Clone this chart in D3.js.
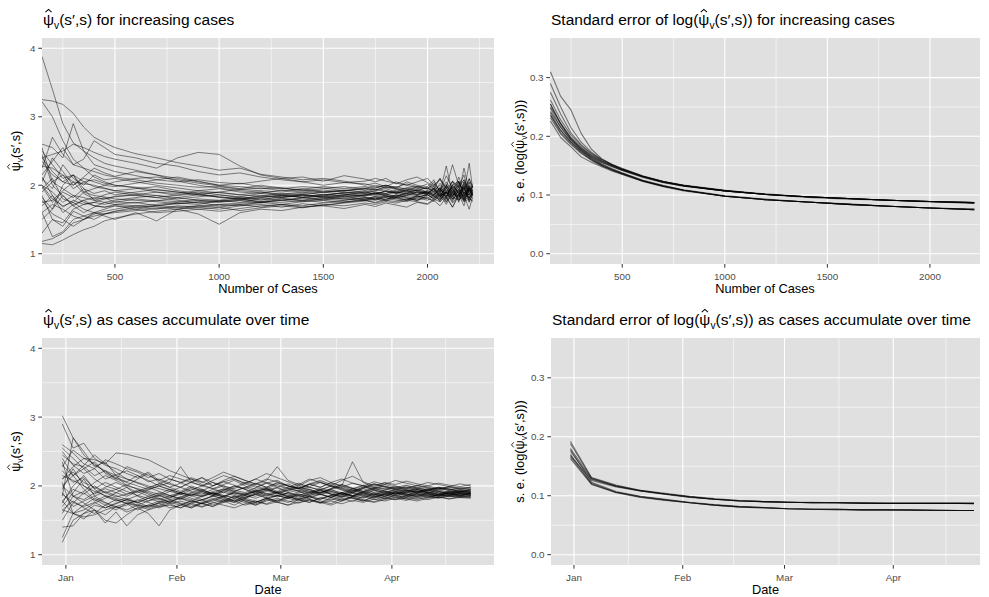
<!DOCTYPE html>
<html>
<head>
<meta charset="utf-8">
<script src="https://cdnjs.cloudflare.com/ajax/libs/d3/7.8.5/d3.min.js"></script>
<style>
  body { margin: 0; background: #fff; }
  text { font-family: "Liberation Sans", Arial, sans-serif; }
</style>
</head>
<body>
<script>

// ---- data -------------------------------------------------------------

// number of cases at which psi-hat was estimated (top row)
var CASES = [150,200,250,300,350,400,450,500,600,700,800,900,1000,1100,1200,1300,1400,1500,1600,1700,
             1750,1800,1850,1900,1950,2000,2030,2060,2090,2120,2150,2175,2200,2216];

// psi-hat estimates x100, one row per simulated run
var PSI_CASES = [
  [388,340,290,262,250,240,232,228,222,215,210,205,200,198,195,196,193,190,192,195,193,197,194,196,199,195,205,190,228,188,212,192,205,198],
  [325,323,318,305,285,270,262,255,246,240,233,228,222,225,216,212,208,210,206,200,203,198,205,200,196,202,194,210,190,206,198,215,186,200],
  [322,300,265,238,225,212,205,200,196,190,185,188,182,180,185,183,186,184,190,188,186,192,189,185,190,188,196,182,200,184,198,178,204,190],
  [118,122,130,145,150,155,158,160,163,166,168,170,172,174,176,175,178,180,178,182,180,184,181,185,183,186,180,192,178,194,182,196,180,188],
  [115,113,120,128,135,140,148,152,158,162,165,170,168,172,175,178,176,180,182,179,184,182,186,183,180,188,184,178,190,176,195,182,200,186],
  [160,125,132,150,155,150,158,162,168,170,173,176,178,175,180,182,185,183,180,186,188,184,182,186,190,187,192,180,196,185,190,176,193,186],
  [225,270,245,230,238,265,255,245,240,232,228,220,215,218,212,208,205,200,204,202,198,200,196,205,200,198,208,190,214,195,205,185,210,195],
  [260,255,240,290,250,230,225,220,214,208,212,206,200,203,198,195,198,196,192,195,200,196,198,194,192,197,190,203,188,200,206,185,199,192],
  [195,210,180,175,190,185,183,180,178,176,173,175,170,172,168,172,170,174,176,178,175,180,182,178,185,180,178,188,175,192,180,198,175,188],
  [182,165,200,215,195,178,182,175,180,177,182,178,176,180,175,178,182,180,185,183,180,186,184,188,186,190,185,195,182,198,175,205,188,192],
  [240,220,205,215,190,195,200,205,210,212,208,203,199,195,200,196,192,195,198,193,196,200,195,192,198,194,200,188,202,185,206,190,232,196],
  [210,195,230,210,200,215,208,210,205,200,196,192,195,190,188,193,190,186,189,192,190,188,193,190,187,192,198,186,195,183,205,188,196,190],
  [170,185,160,172,178,170,168,172,175,170,174,172,177,180,176,181,178,183,180,178,182,179,186,182,178,184,190,176,193,180,186,170,198,184],
  [205,240,220,200,212,225,218,213,220,215,206,200,196,192,190,186,188,190,193,190,194,191,188,194,196,190,186,197,184,201,187,205,183,194],
  [150,165,185,170,160,168,175,178,182,185,180,183,186,182,178,184,186,182,186,190,187,191,188,192,189,186,195,182,200,188,184,202,178,190],
  [245,200,185,170,178,182,180,184,186,190,188,192,189,186,184,188,186,190,187,184,189,186,190,188,193,189,184,196,180,206,186,198,176,185],
  [185,150,140,162,155,160,165,170,168,165,170,168,165,170,172,168,173,170,175,178,174,178,176,180,178,182,176,186,172,190,178,185,165,182],
  [228,225,215,205,202,200,196,192,195,198,192,188,190,186,190,187,190,193,190,188,192,195,190,196,192,188,194,185,198,180,200,178,195,188],
  [130,150,145,165,172,175,172,176,174,178,176,180,178,183,180,178,181,185,183,186,188,185,183,188,191,188,195,184,190,178,192,183,196,192],
  [255,205,195,185,175,170,168,170,165,170,168,165,162,166,170,172,168,171,174,177,180,177,182,179,184,181,186,180,190,183,178,190,182,186],
  [215,235,255,230,225,220,215,212,208,203,200,197,198,194,196,192,195,190,192,196,193,198,195,191,194,196,191,200,185,198,188,225,192,198],
  [200,190,175,185,182,178,175,172,170,168,165,168,172,170,175,172,176,178,175,180,178,182,178,176,182,178,184,178,190,174,186,180,188,181],
  [175,178,192,205,188,180,186,190,185,182,186,190,186,183,188,185,183,187,184,186,184,188,191,187,185,190,196,184,190,180,193,188,182,190],
  [160,172,165,155,150,160,158,162,165,160,162,165,168,163,167,170,167,172,170,174,172,176,174,178,176,173,180,176,184,168,188,178,183,176],
  [235,215,205,200,210,205,200,198,203,208,205,208,204,202,206,210,205,208,204,206,210,206,203,200,205,210,200,208,196,230,200,195,209,200],
  [190,205,215,195,205,198,195,192,188,185,182,186,183,180,184,182,186,183,186,190,187,192,189,193,186,192,188,196,182,200,190,184,195,187],
  [212,185,168,178,172,175,180,183,186,182,178,174,176,178,182,186,182,178,184,180,183,178,184,181,178,186,182,190,176,186,194,180,192,184],
  [250,230,210,215,205,208,203,200,197,193,190,186,183,180,182,185,182,186,188,185,190,187,184,190,193,190,186,193,188,196,184,200,190,193],
  [178,158,150,140,150,158,162,165,170,172,175,178,175,178,174,180,178,175,178,182,179,184,180,178,183,186,180,188,184,194,178,190,186,190],
  [198,175,190,182,195,188,192,186,190,194,190,186,190,194,192,190,194,198,195,198,196,200,197,202,198,195,202,193,205,190,200,208,192,197],
  [240,245,250,260,255,248,242,238,232,225,240,248,245,228,215,210,212,206,214,209,205,210,202,208,212,204,198,210,195,205,196,208,192,200],
  [200,180,170,175,165,160,155,150,160,148,165,158,143,160,165,163,168,170,166,172,169,174,171,168,175,172,178,170,182,168,185,176,180,178]
];

// cases for the standard error curves
var SE_CASES = [150,200,250,300,350,400,450,500,600,700,800,1000,1200,1400,1600,1800,2000,2216];

// s.e. of log(psi-hat) x1000, upper group and lower group of runs
var SE_UPPER_CASES = [
  [250,222,198,181,168,158,150,143,131,122,116,107,101,97,94,91,89,87],
  [262,228,202,184,170,159,151,144,132,123,116,107,101,97,94,91,89,87],
  [242,216,194,178,166,156,149,142,131,122,115,107,101,97,94,91,89,87],
  [310,268,245,205,178,162,152,145,133,123,117,108,102,97,94,91,89,87],
  [255,220,196,180,167,157,150,143,131,122,116,107,101,97,94,91,89,86],
  [275,238,206,186,171,160,152,145,132,123,116,108,101,97,94,91,89,87],
  [236,210,190,175,164,155,148,142,130,121,115,107,101,96,93,91,88,86],
  [290,250,215,190,173,161,152,144,132,123,116,107,101,97,94,91,89,87]
];
var SE_LOWER_CASES = [
  [240,210,190,174,161,151,143,137,124,115,108,98,92,88,84,81,78,75],
  [232,204,186,171,159,150,142,136,124,115,108,98,92,88,84,81,78,75],
  [248,215,193,176,162,152,144,137,125,116,108,98,92,88,84,81,78,76],
  [226,198,182,165,156,148,141,135,123,114,107,98,92,88,84,81,78,75],
  [255,222,196,178,164,153,145,138,125,116,109,99,93,88,85,81,78,76],
  [236,206,188,172,160,150,143,136,124,115,108,98,92,88,84,81,78,75]
];

// dates at which psi-hat was estimated (bottom row)
var DATES = ["2019-12-31","2020-01-03","2020-01-06","2020-01-09","2020-01-12","2020-01-15","2020-01-18",
             "2020-01-21","2020-01-24","2020-01-27","2020-01-30","2020-02-02","2020-02-05","2020-02-08",
             "2020-02-11","2020-02-14","2020-02-17","2020-02-20","2020-02-23","2020-02-26","2020-02-29",
             "2020-03-03","2020-03-06","2020-03-09","2020-03-12","2020-03-15","2020-03-18","2020-03-21",
             "2020-03-24","2020-03-27","2020-03-30","2020-04-02","2020-04-05","2020-04-08","2020-04-11",
             "2020-04-14","2020-04-17","2020-04-20","2020-04-23"];

var PSI_TIME = [
  [302,270,245,230,222,215,210,205,200,196,192,188,190,186,192,195,190,188,193,196,190,194,198,192,190,195,199,194,190,196,193,190,194,191,196,192,190,193,191],
  [118,150,160,172,168,175,180,176,182,186,180,184,188,185,190,186,183,188,192,189,186,190,194,190,187,192,188,185,190,194,191,188,192,189,193,190,188,191,189],
  [290,255,262,240,230,225,218,212,220,208,202,198,205,200,196,202,208,200,195,198,204,200,196,202,198,205,200,196,201,198,195,199,196,200,197,194,198,195,196],
  [140,142,160,165,158,170,175,172,168,175,178,182,176,180,185,182,178,184,188,183,186,182,188,185,181,186,190,186,183,188,185,190,187,184,188,186,190,187,188],
  [255,240,225,235,218,210,228,222,215,208,215,210,205,212,200,206,210,203,198,205,200,196,202,198,194,200,197,193,198,195,200,196,193,197,194,198,195,192,194],
  [160,185,175,165,150,146,158,168,160,142,165,172,168,175,170,178,172,180,176,182,178,185,180,176,183,179,185,182,178,185,181,186,183,188,184,187,185,189,186],
  [245,232,228,215,222,210,205,200,195,200,195,190,185,192,188,184,190,186,192,196,190,185,192,188,195,190,186,193,189,184,190,194,190,187,191,188,192,190,189],
  [175,200,215,195,185,178,182,176,170,175,168,172,178,174,180,185,190,186,182,188,192,188,184,190,194,188,185,191,187,193,189,186,190,193,190,188,186,190,188],
  [210,220,205,198,190,195,188,192,185,180,186,182,190,195,188,184,192,198,192,186,190,196,192,186,190,195,188,192,196,190,187,192,189,195,191,188,193,190,192],
  [190,170,178,185,192,186,180,175,182,188,184,190,186,180,185,191,186,182,188,194,189,184,180,186,192,188,184,190,186,182,188,192,188,185,189,192,188,185,190],
  [228,252,240,232,220,212,206,215,208,200,205,228,206,200,208,215,210,204,210,218,212,206,200,208,212,205,210,204,200,206,202,208,204,200,205,202,199,203,200],
  [165,160,172,182,175,168,172,180,176,170,176,182,178,174,170,176,180,176,172,178,182,178,175,180,176,172,178,183,179,176,180,184,181,178,182,184,181,185,183],
  [215,208,200,192,186,182,178,172,170,176,180,175,170,176,182,178,185,180,176,182,186,182,188,184,180,186,190,185,182,188,185,190,186,192,188,185,190,187,189],
  [195,225,200,188,196,190,198,185,178,186,182,190,198,192,186,193,200,195,188,194,198,203,196,190,197,192,188,195,200,194,190,195,198,193,190,194,191,195,192],
  [150,175,190,178,185,180,175,178,185,190,186,180,188,184,190,186,182,188,194,188,184,190,186,182,188,184,190,186,192,188,184,189,186,191,188,185,188,186,187],
  [240,215,195,180,172,165,175,170,166,172,178,174,168,175,180,176,182,178,174,180,186,182,178,184,188,183,179,185,190,186,182,187,184,189,186,183,188,185,186],
  [185,270,250,228,235,215,200,196,192,188,195,190,186,193,189,196,192,188,185,192,197,190,186,192,188,194,190,185,192,196,192,188,193,190,194,190,188,192,190],
  [200,185,180,190,198,205,198,190,196,203,198,192,200,195,188,194,200,196,203,198,192,198,204,198,194,200,195,190,196,202,198,194,198,195,192,196,194,197,195],
  [230,215,225,210,200,195,202,195,188,182,176,184,180,174,178,184,178,172,176,182,178,184,180,176,182,186,180,184,188,183,187,183,186,189,185,188,186,189,187],
  [165,178,168,160,172,180,174,165,172,178,174,168,175,180,172,178,185,178,172,180,176,172,180,185,178,174,182,177,185,180,184,180,185,182,186,183,186,184,185],
  [260,248,232,225,210,216,222,215,206,210,204,198,206,212,205,200,196,203,210,204,208,200,196,202,206,200,196,192,198,203,199,196,200,197,195,198,196,193,195],
  [178,195,188,200,190,184,188,194,190,185,192,198,192,188,195,200,194,190,197,204,198,192,198,194,190,196,202,196,192,198,196,192,195,191,194,197,193,191,193],
  [205,160,165,175,182,190,185,192,198,192,186,190,196,190,186,193,188,183,190,185,191,186,182,188,194,188,183,189,185,190,187,191,188,185,189,186,190,187,189],
  [125,160,155,158,165,170,162,168,172,168,174,178,173,169,175,180,176,182,178,174,180,176,182,179,175,181,178,184,180,177,182,180,183,180,184,182,185,183,184],
  [250,230,218,225,238,232,225,220,212,218,210,205,212,206,200,208,214,208,202,208,228,208,202,210,205,200,208,214,206,200,205,202,207,203,200,204,201,199,202],
  [188,176,170,176,168,174,180,186,182,177,183,188,182,178,186,180,176,182,188,182,176,182,186,181,176,183,188,182,178,184,189,185,181,186,183,187,184,186,185],
  [222,205,212,196,205,198,192,186,194,200,194,188,194,200,205,198,192,198,204,198,205,200,196,203,198,204,200,235,205,198,204,200,196,201,198,195,199,196,198],
  [170,190,210,185,176,170,165,172,178,182,176,172,178,185,190,184,178,186,192,196,190,184,190,195,188,183,190,196,190,186,192,188,191,195,190,187,191,189,190],
  [235,185,192,205,215,208,200,210,218,205,198,204,210,202,196,190,198,205,200,194,188,194,200,195,190,196,202,197,192,188,194,198,194,191,195,192,189,192,191],
  [200,215,230,245,232,220,210,204,198,203,210,205,198,193,200,206,201,195,190,196,202,197,193,199,205,199,194,190,197,203,199,195,192,196,193,197,195,192,194],
  [210,228,240,238,232,248,246,242,238,230,222,216,210,205,212,220,214,208,203,210,206,200,196,203,208,202,198,204,200,196,202,198,201,197,200,196,199,197,198],
  [178,160,152,165,146,162,142,158,165,170,172,168,175,170,176,172,168,174,178,173,177,172,176,180,175,178,174,179,176,181,178,182,179,183,180,184,181,183,182]
];

var SE_DATES = ["2019-12-31","2020-01-06","2020-01-13","2020-01-20","2020-01-27","2020-02-03","2020-02-10",
                "2020-02-17","2020-02-24","2020-03-02","2020-03-09","2020-03-16","2020-03-23","2020-03-30",
                "2020-04-06","2020-04-13","2020-04-20","2020-04-24"];

var SE_UPPER_TIME = [
  [175,128,116,108,103,98,94,91,90,89,88,88,87,87,87,87,87,87],
  [188,130,117,109,103,98,94,92,90,89,88,88,88,87,87,87,87,87],
  [168,126,115,108,102,97,94,91,90,89,88,88,87,87,87,87,87,86],
  [192,131,118,109,104,99,95,92,90,89,89,88,88,87,87,87,87,87],
  [180,129,116,108,103,98,94,91,90,89,88,88,87,87,87,87,87,87]
];
var SE_LOWER_TIME = [
  [170,121,106,98,93,88,84,81,80,78,77,77,76,76,76,75,75,75],
  [163,119,105,97,92,88,84,81,79,78,77,77,76,76,76,75,75,75],
  [178,123,107,99,94,89,85,82,80,78,77,77,76,76,76,76,75,75],
  [166,120,106,98,93,88,84,81,80,78,77,76,76,76,75,75,75,75]
];

// ---- drawing ----------------------------------------------------------

var W = 989, H = 597;
var PANEL_BG = "#e0e0e0";
var parseDay = d3.timeParse("%Y-%m-%d");
var svg = d3.select("body").append("svg").attr("width", W).attr("height", H);
svg.append("rect").attr("width", W).attr("height", H).attr("fill", "#fff");

var clipCount = 0;

// writes  pre + psi-hat_v(s',s) + post  at the origin of group g.
// the hat is drawn as a small path over the psi glyph
function psiText(g, anchor, size, pre, post) {
  var text = g.append("text").attr("text-anchor", anchor).style("font-size", size + "px");
  text.append("tspan").text(pre + "\u03c8");
  text.append("tspan").attr("dy", size * 0.26).style("font-size", (size * 0.66) + "px").text("v");
  text.append("tspan").attr("dy", -size * 0.26).text("(s\u2032,s)" + post);

  var box = text.node().getExtentOfChar(pre.length);
  var cx = box.x + box.width / 2, hw = size * 0.2;
  g.append("path")
    .attr("d", "M" + (cx - hw) + "," + (-size * 0.8) + "L" + cx + "," + (-size * 0.98) +
               "L" + (cx + hw) + "," + (-size * 0.8))
    .attr("fill", "none").attr("stroke", "#000").attr("stroke-width", size * 0.065);
}

// midpoints between consecutive breaks, kept if inside the domain
function minorBreaks(breaks, domain) {
  var out = [];
  for (var i = 0; i < breaks.length - 1; i++) {
    var m = (+breaks[i] + +breaks[i + 1]) / 2;
    if (m > +domain[0] && m < +domain[1]) out.push(m);
  }
  return out;
}

function drawPanel(p) {
  var x = p.x, y = p.y;
  var L = x.range()[0], R = x.range()[1], T = y.range()[1], B = y.range()[0];
  var g = svg.append("g");
  var id = "clip" + (clipCount++);

  g.append("clipPath").attr("id", id).append("rect")
    .attr("x", L).attr("y", T).attr("width", R - L).attr("height", B - T);
  g.append("rect").attr("x", L).attr("y", T).attr("width", R - L).attr("height", B - T)
    .attr("fill", PANEL_BG);

  // grid
  var grid = g.append("g").attr("stroke", "#fff");
  grid.selectAll(".xmin").data(p.xMinor).enter().append("line")
    .attr("x1", function (d) { return x(d); }).attr("x2", function (d) { return x(d); })
    .attr("y1", T).attr("y2", B).attr("stroke-width", 0.55);
  grid.selectAll(".ymin").data(p.yMinor).enter().append("line")
    .attr("y1", function (d) { return y(d); }).attr("y2", function (d) { return y(d); })
    .attr("x1", L).attr("x2", R).attr("stroke-width", 0.55);
  grid.selectAll(".xmaj").data(p.xTicks).enter().append("line")
    .attr("x1", function (d) { return x(d); }).attr("x2", function (d) { return x(d); })
    .attr("y1", T).attr("y2", B).attr("stroke-width", 1.1);
  grid.selectAll(".ymaj").data(p.yTicks).enter().append("line")
    .attr("y1", function (d) { return y(d); }).attr("y2", function (d) { return y(d); })
    .attr("x1", L).attr("x2", R).attr("stroke-width", 1.1);

  // series
  var lines = g.append("g").attr("clip-path", "url(#" + id + ")");
  p.series.forEach(function (s) {
    var line = d3.line()
      .defined(function (d, i) { return i < s.xs.length; })
      .x(function (d, i) { return x(s.xs[i]); })
      .y(function (d) { return y(d / s.scale); });
    lines.selectAll(null).data(s.rows).enter().append("path")
      .attr("d", line)
      .attr("fill", "none")
      .attr("stroke", "#000")
      .attr("stroke-opacity", s.opacity)
      .attr("stroke-width", s.width)
      .attr("stroke-linejoin", "round");
  });

  // axes
  var ax = g.append("g");
  ax.selectAll(".xt").data(p.xTicks).enter().append("line")
    .attr("x1", function (d) { return x(d); }).attr("x2", function (d) { return x(d); })
    .attr("y1", B).attr("y2", B + 3.7).attr("stroke", "#333").attr("stroke-width", 1);
  ax.selectAll(".xl").data(p.xTicks).enter().append("text")
    .attr("x", function (d) { return x(d); }).attr("y", B + 15.5)
    .attr("text-anchor", "middle").attr("fill", "#4d4d4d").style("font-size", "9.8px")
    .text(p.xFormat);
  ax.selectAll(".yt").data(p.yTicks).enter().append("line")
    .attr("y1", function (d) { return y(d); }).attr("y2", function (d) { return y(d); })
    .attr("x1", L - 3.7).attr("x2", L).attr("stroke", "#333").attr("stroke-width", 1);
  ax.selectAll(".yl").data(p.yTicks).enter().append("text")
    .attr("x", L - 6.5).attr("y", function (d) { return y(d); }).attr("dy", "0.35em")
    .attr("text-anchor", "end").attr("fill", "#4d4d4d").style("font-size", "9.8px")
    .text(p.yFormat);

  // axis titles
  g.append("text").attr("x", (L + R) / 2).attr("y", B + 29)
    .attr("text-anchor", "middle").style("font-size", "12.8px").text(p.xTitle);
  var yt = g.append("g")
    .attr("transform", "translate(" + p.yTitleX + "," + ((T + B) / 2) + ") rotate(-90)");
  psiText(yt, "middle", 12.8, p.yTitlePre, p.yTitlePost);

  // panel title
  var tt = g.append("g").attr("transform", "translate(" + (L + 1) + "," + (T - 13.5) + ")");
  psiText(tt, "start", 15.5, p.titlePre, p.titlePost);
}

function rowsOf(rows, xs, scale, opacity, width) {
  return { rows: rows, xs: xs, scale: scale, opacity: opacity, width: width };
}

var caseTicks = [500, 1000, 1500, 2000];
var caseBreaks = [0, 500, 1000, 1500, 2000, 2500];
var monthTicks = ["2020-01-01", "2020-02-01", "2020-03-01", "2020-04-01"].map(parseDay);
var monthBreaks = ["2019-12-01", "2020-01-01", "2020-02-01", "2020-03-01", "2020-04-01", "2020-05-01"].map(parseDay);
var psiTicks = [1, 2, 3, 4];
var seTicks = [0, 0.1, 0.2, 0.3];

var psiDomain = [0.85, 4.15];
var seDomain = [-0.0175, 0.3675];

var caseDates = DATES.map(parseDay);
var seDates = SE_DATES.map(parseDay);

// top left
var x1 = d3.scaleLinear().domain([150, 2319]).range([42, 494]);
drawPanel({
  x: x1, y: d3.scaleLinear().domain(psiDomain).range([264, 38]),
  xTicks: caseTicks, xMinor: minorBreaks(caseBreaks, x1.domain()),
  yTicks: psiTicks, yMinor: [1.5, 2.5, 3.5],
  xFormat: function (d) { return d; }, yFormat: function (d) { return d; },
  series: [rowsOf(PSI_CASES, CASES, 100, 0.5, 0.95)],
  xTitle: "Number of Cases", yTitleX: 20, yTitlePre: "", yTitlePost: "",
  titlePre: "", titlePost: " for increasing cases"
});

// top right
var x2 = d3.scaleLinear().domain([148, 2244]).range([550, 980]);
drawPanel({
  x: x2, y: d3.scaleLinear().domain(seDomain).range([264, 38]),
  xTicks: caseTicks, xMinor: minorBreaks(caseBreaks, x2.domain()),
  yTicks: seTicks, yMinor: [0.05, 0.15, 0.25],
  xFormat: function (d) { return d; }, yFormat: d3.format(".1f"),
  series: [rowsOf(SE_UPPER_CASES, SE_CASES, 1000, 0.5, 1.1),
           rowsOf(SE_LOWER_CASES, SE_CASES, 1000, 0.5, 1.1)],
  xTitle: "Number of Cases", yTitleX: 524, yTitlePre: "s. e. (log(", yTitlePost: "))",
  titlePre: "Standard error of log(", titlePost: ") for increasing cases"
});

// bottom left
var x3 = d3.scaleTime().domain([new Date(2019, 11, 25, 8), new Date(2020, 3, 29, 12)]).range([42, 494]);
drawPanel({
  x: x3, y: d3.scaleLinear().domain(psiDomain).range([565, 338]),
  xTicks: monthTicks, xMinor: minorBreaks(monthBreaks, x3.domain()),
  yTicks: psiTicks, yMinor: [1.5, 2.5, 3.5],
  xFormat: d3.timeFormat("%b"), yFormat: function (d) { return d; },
  series: [rowsOf(PSI_TIME, caseDates, 100, 0.5, 0.95)],
  xTitle: "Date", yTitleX: 20, yTitlePre: "", yTitlePost: "",
  titlePre: "", titlePost: " as cases accumulate over time"
});

// bottom right
var x4 = d3.scaleTime().domain([new Date(2019, 11, 25, 11), new Date(2020, 3, 25, 17)]).range([551, 980]);
drawPanel({
  x: x4, y: d3.scaleLinear().domain(seDomain).range([565, 338]),
  xTicks: monthTicks, xMinor: minorBreaks(monthBreaks, x4.domain()),
  yTicks: seTicks, yMinor: [0.05, 0.15, 0.25],
  xFormat: d3.timeFormat("%b"), yFormat: d3.format(".1f"),
  series: [rowsOf(SE_UPPER_TIME, seDates, 1000, 0.5, 1.1),
           rowsOf(SE_LOWER_TIME, seDates, 1000, 0.5, 1.1)],
  xTitle: "Date", yTitleX: 524, yTitlePre: "s. e. (log(", yTitlePost: "))",
  titlePre: "Standard error of log(", titlePost: ") as cases accumulate over time"
});

</script>
</body>
</html>
